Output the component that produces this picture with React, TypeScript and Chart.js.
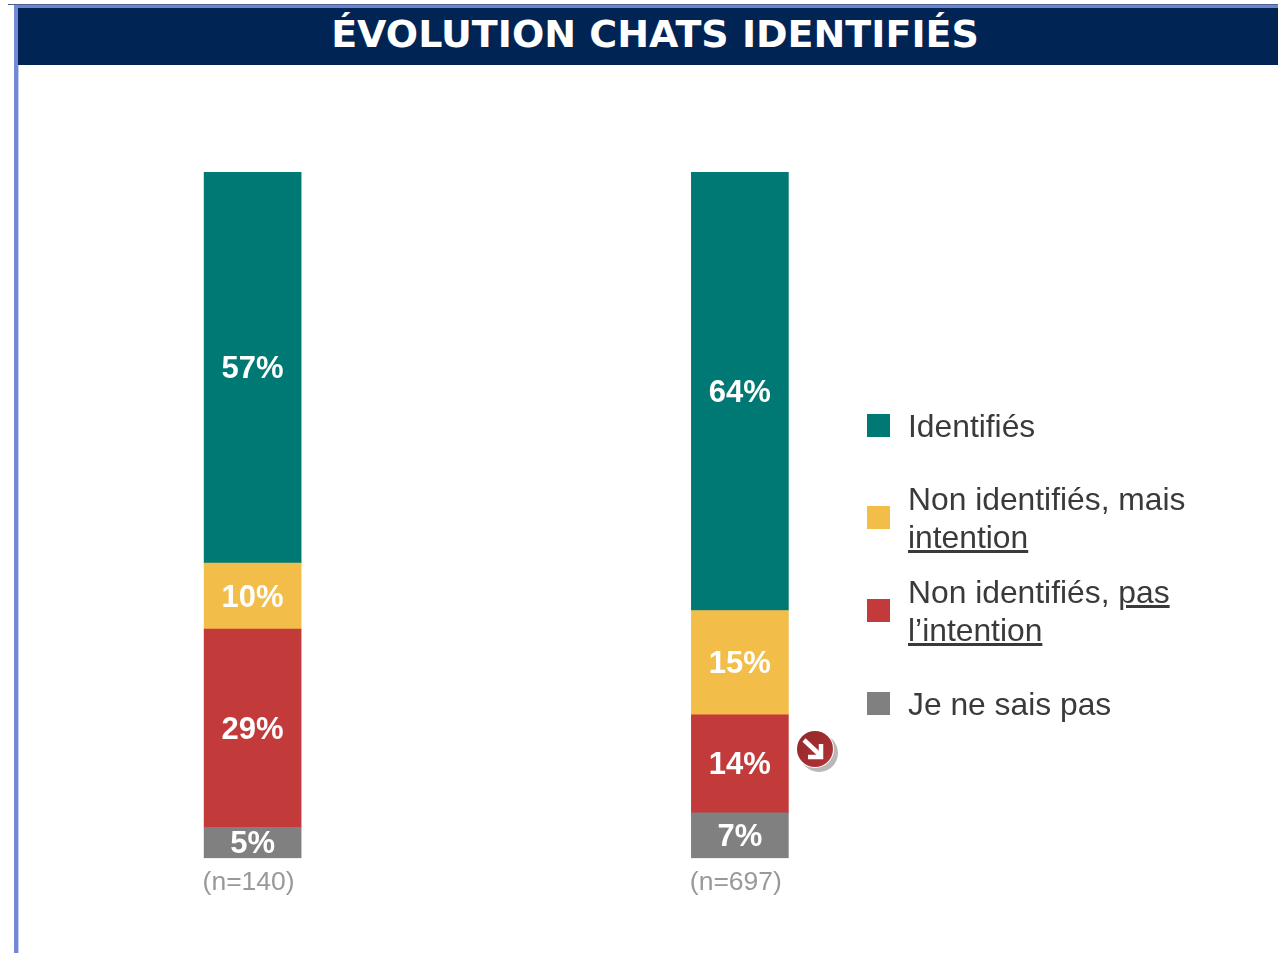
import React, { useEffect, useRef } from "react";
import { Chart, registerables } from "chart.js";

Chart.register(...registerables);

const titleText = "ÉVOLUTION CHATS IDENTIFIÉS";
const categories = ["(n=140)", "(n=697)"];
// Segment heights (in %), bottom to top
const unknownValues = [4.5, 6.6];
const noIntentionValues = [28.9, 14.3];
const intentionValues = [9.6, 15.2];
const identifiedValues = [57, 63.9];
// Printed labels
const unknownLabels = ["5%", "7%"];
const noIntentionLabels = ["29%", "14%"];
const intentionLabels = ["10%", "15%"];
const identifiedLabels = ["57%", "64%"];

const TEAL = "#007873";
const YELLOW = "#F2BD49";
const RED = "#C33A3B";
const GREY = "#808080";

const legendRows = [
  { color: TEAL, top: 414, textTop: 407, lines: [[{ t: "Identifiés", u: false }]] },
  {
    color: YELLOW,
    top: 506,
    textTop: 480,
    lines: [[{ t: "Non identifiés, mais", u: false }], [{ t: "intention", u: true }]],
  },
  {
    color: RED,
    top: 599,
    textTop: 573,
    lines: [
      [{ t: "Non identifiés, ", u: false }, { t: "pas", u: true }],
      [{ t: "l’intention", u: true }],
    ],
  },
  { color: GREY, top: 692, textTop: 685, lines: [[{ t: "Je ne sais pas", u: false }]] },
];

const segmentLabelPlugin = {
  id: "segmentLabels",
  afterDatasetsDraw(chart: any) {
    const { ctx } = chart;
    ctx.save();
    ctx.fillStyle = "#ffffff";
    ctx.font = 'bold 31px "Liberation Sans", Arial, sans-serif';
    ctx.textAlign = "center";
    ctx.textBaseline = "middle";
    chart.data.datasets.forEach((ds: any, i: number) => {
      chart.getDatasetMeta(i).data.forEach((bar: any, j: number) => {
        const p = bar.getProps(["x", "y", "base"], true);
        ctx.fillText(ds.printed[j], p.x, (p.y + p.base) / 2 + 2);
      });
    });
    ctx.restore();
  },
};

export default function App() {
  const ref = useRef<HTMLCanvasElement | null>(null);

  useEffect(() => {
    document.body.style.margin = "0";
    document.body.style.background = "#fff";
    const chart = new Chart(ref.current as HTMLCanvasElement, {
      type: "bar",
      data: {
        labels: categories,
        datasets: [
          { label: "Je ne sais pas", data: unknownValues, backgroundColor: GREY, printed: unknownLabels },
          { label: "Non identifiés, pas l’intention", data: noIntentionValues, backgroundColor: RED, printed: noIntentionLabels },
          { label: "Non identifiés, mais intention", data: intentionValues, backgroundColor: YELLOW, printed: intentionLabels },
          { label: "Identifiés", data: identifiedValues, backgroundColor: TEAL, printed: identifiedLabels },
        ] as any,
      },
      plugins: [segmentLabelPlugin],
      options: {
        responsive: false,
        animation: false,
        devicePixelRatio: 1,
        layout: { padding: { left: 9, right: 294.5, top: 172, bottom: 45 } },
        datasets: { bar: { barThickness: 97 } },
        plugins: { legend: { display: false }, title: { display: false }, tooltip: { enabled: false } },
        scales: {
          x: {
            stacked: true,
            grid: { display: false, drawTicks: false },
            border: { display: false },
            ticks: {
              color: "#999999",
              padding: 9,
              labelOffset: -4,
              maxRotation: 0,
              font: { family: '"Liberation Sans", Arial, sans-serif', size: 26.5 },
            },
          },
          y: { stacked: true, display: false, min: 0, max: 100 },
        },
      } as any,
    });
    return () => chart.destroy();
  }, []);

  const abs = (left: number, top: number, width: number, height: number, background: string): React.CSSProperties => ({
    position: "absolute", left, top, width, height, background,
  });

  return (
    <div style={{ position: "absolute", left: 0, top: 0, width: 1278, height: 953, overflow: "hidden", background: "#fff" }}>
      <canvas ref={ref} width={1278} height={953} style={{ position: "absolute", left: 0, top: 0, display: "block" }} />
      <div style={abs(8, 4, 1270, 1, "#4a6090")} />
      <div style={abs(14, 5, 1264, 4, "#6f84d0")} />
      <div style={abs(14, 5, 4, 948, "#7488d6")} />
      <div style={abs(18, 65, 1, 888, "#c3cdf0")} />
      <div
        style={{
          ...abs(18, 8, 1260, 57, "#002554"),
          color: "#fff",
          font: 'bold 38px "DejaVu Sans", sans-serif',
          lineHeight: "52px",
        }}
      >
        <span style={{ position: "absolute", left: 0, width: 1274, textAlign: "center", top: 0 }}>{titleText}</span>
      </div>
      {legendRows.map((row, i) => (
        <React.Fragment key={i}>
          <div style={abs(867, row.top, 23, 23, row.color)} />
          <div
            style={{
              position: "absolute",
              left: 908,
              top: row.textTop,
              font: '31.8px "Liberation Sans", Arial, sans-serif',
              lineHeight: "38px",
              color: "#3a3a3a",
              whiteSpace: "nowrap",
            }}
          >
            {row.lines.map((line, k) => (
              <div key={k}>
                {line.map((part, m) => (
                  <span key={m} style={{ textDecoration: part.u ? "underline" : "none" }}>{part.t}</span>
                ))}
              </div>
            ))}
          </div>
        </React.Fragment>
      ))}
      <svg width={50} height={50} style={{ position: "absolute", left: 792, top: 727 }} viewBox="792 727 50 50">
        <defs>
          <linearGradient id="badge" x1="0" y1="0" x2="1" y2="1">
            <stop offset="0" stopColor="#8e2a2d" />
            <stop offset="0.5" stopColor="#a32c30" />
            <stop offset="1" stopColor="#b23338" />
          </linearGradient>
        </defs>
        <circle cx={819} cy={753} r={19} fill="#b8b8b8" />
        <circle cx={815} cy={749} r={19} fill="#ffffff" />
        <circle cx={815} cy={749} r={18} fill="url(#badge)" />
        <path d="M804 740 L820 755" stroke="#fff" strokeWidth={4.5} fill="none" />
        <path d="M821 744 L821 757 L808 757" stroke="#fff" strokeWidth={4.5} fill="none" />
      </svg>
    </div>
  );
}
